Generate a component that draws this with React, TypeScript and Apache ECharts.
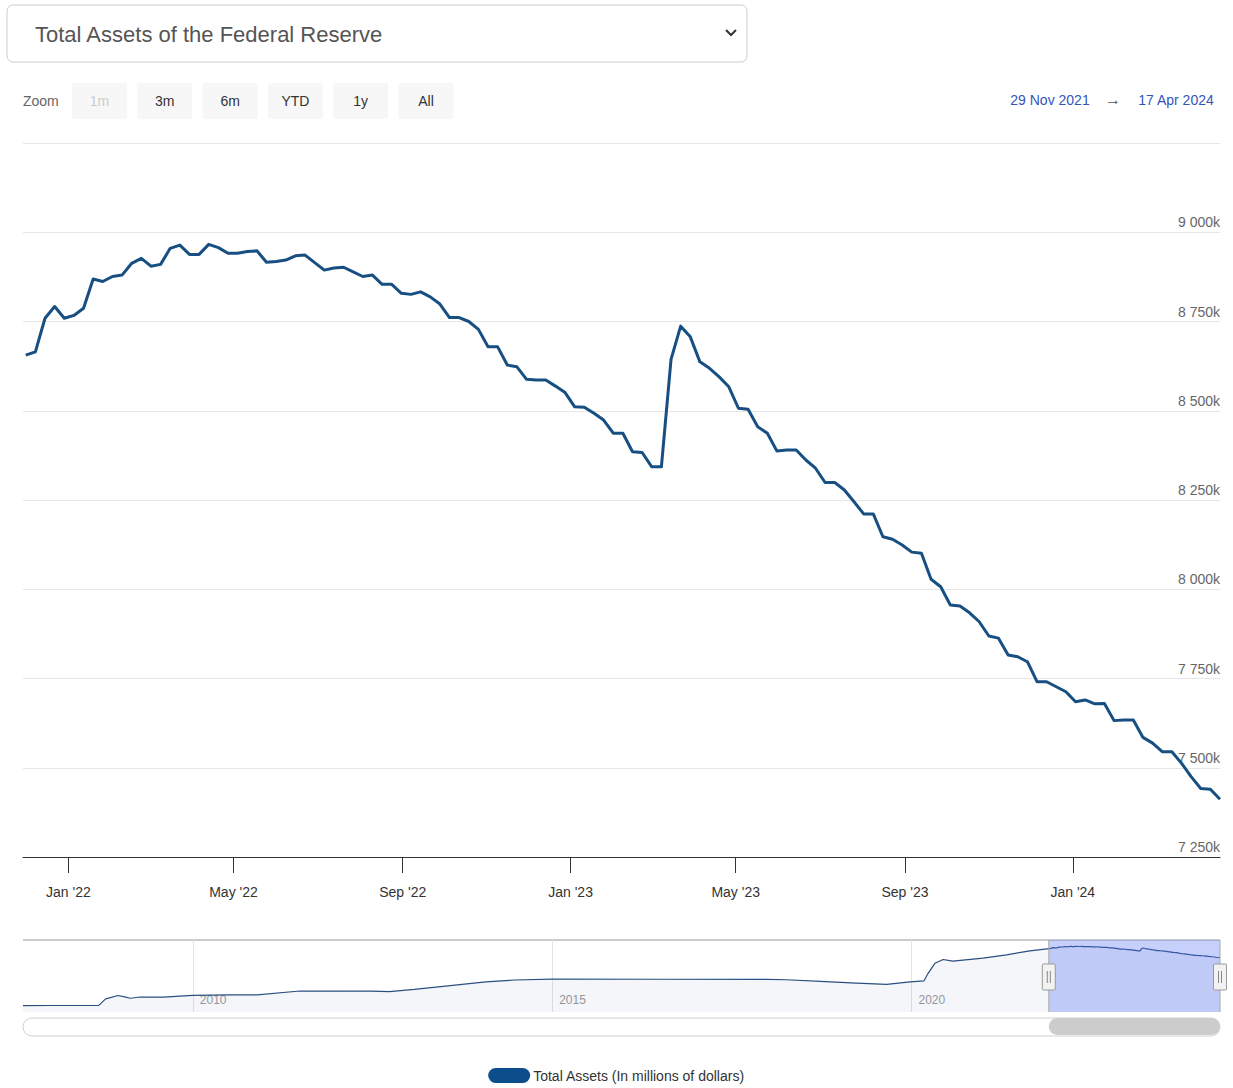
import React, { useEffect, useRef } from 'react';
import * as echarts from 'echarts';

// ---------- data ----------
const SERIES_NAME = 'Total Assets (In millions of dollars)';
const TITLE = 'Total Assets of the Federal Reserve';

// weekly (Wednesday) observations starting 1 Dec 2021, in thousands of millions ("k")
const FIRST_WEEK = '2021-12-01';
const totalAssetsK = [
  8656, 8665, 8759, 8792, 8759, 8767, 8787, 8869, 8862, 8876,
  8880, 8913, 8927, 8905, 8910, 8955, 8964, 8938, 8938, 8966,
  8957, 8941, 8941, 8946, 8948, 8916, 8918, 8922, 8934, 8936,
  8915, 8894, 8900, 8902, 8889, 8876, 8880, 8854, 8854, 8829,
  8826, 8833, 8819, 8799, 8761, 8761, 8750, 8728, 8679, 8679,
  8628, 8623, 8588, 8586, 8586, 8569, 8551, 8511, 8510, 8493,
  8474, 8437, 8437, 8385, 8383, 8343, 8343, 8644, 8737, 8707,
  8637, 8619, 8595, 8567, 8507, 8504, 8455, 8437, 8387, 8390,
  8390, 8362, 8339, 8299, 8299, 8278, 8245, 8211, 8211, 8147,
  8140, 8124, 8104, 8101, 8028, 8007, 7956, 7953, 7934, 7909,
  7869, 7863, 7816, 7811, 7797, 7741, 7741, 7727, 7713, 7685,
  7690, 7679, 7680, 7632, 7634, 7634, 7585, 7569, 7545, 7545,
  7513, 7475, 7442, 7440, 7412,
];

// long history shown in the navigator (before the main series), in millions
const historyDates = [
  '2007-08-22', '2008-01-02', '2008-09-10', '2008-10-15', '2008-12-17',
  '2009-01-14', '2009-02-18', '2009-04-08', '2009-08-05', '2009-12-30',
  '2010-06-30', '2010-11-24', '2011-06-29', '2012-06-27', '2012-09-26',
  '2013-01-30', '2013-06-26', '2014-01-29', '2014-06-25', '2014-12-31',
  '2016-06-29', '2017-12-27', '2018-04-04', '2018-09-26', '2019-03-27',
  '2019-08-28', '2019-12-25', '2020-03-04', '2020-03-25', '2020-04-29',
  '2020-06-10', '2020-07-29', '2020-12-30', '2021-04-28', '2021-08-25',
];
const historyValues = [
  870000, 890000, 905000, 1800000, 2250000,
  2100000, 1880000, 2050000, 2030000, 2270000,
  2330000, 2330000, 2870000, 2850000, 2780000,
  3100000, 3500000, 4100000, 4370000, 4500000,
  4470000, 4450000, 4400000, 4180000, 3950000,
  3770000, 4120000, 4240000, 5250000, 6650000,
  7170000, 6950000, 7350000, 7800000, 8350000,
];

const RANGE_START = '2021-11-29';
const RANGE_END = '2024-04-17';
const NAV_START = '2007-08-22';
const xTickDates = ['2022-01-01', '2022-05-01', '2022-09-01', '2023-01-01', '2023-05-01', '2023-09-01', '2024-01-01'];
const navYearTicks = ['2010-01-01', '2015-01-01', '2020-01-01'];
const Y_MIN = 7250000;
const Y_MAX = 9250000;
const Y_STEP = 250000;
const NAV_Y_MAX = 9830000;
const zoomButtons = ['1m', '3m', '6m', 'YTD', '1y', 'All'];
const disabledButtons = ['1m'];

// ---------- helpers ----------
const MONTHS = ['Jan', 'Feb', 'Mar', 'Apr', 'May', 'Jun', 'Jul', 'Aug', 'Sep', 'Oct', 'Nov', 'Dec'];
const ts = (s: string) => {
  const [y, m, d] = s.split('-').map(Number);
  return new Date(y, m - 1, d).getTime();
};
const fmtRange = (s: string) => {
  const d = new Date(ts(s));
  return `${d.getDate()} ${MONTHS[d.getMonth()]} ${d.getFullYear()}`;
};
const fmtK = (v: number) => {
  const k = Math.round(v / 1000);
  return String(k).replace(/\B(?=(\d{3})+(?!\d))/g, ' ') + 'k';
};

const weekDates = totalAssetsK.map((_, i) => {
  const [y, m, d] = FIRST_WEEK.split('-').map(Number);
  return new Date(y, m - 1, d + 7 * i).getTime();
});
const mainData = totalAssetsK.map((v, i) => [weekDates[i], v * 1000]);
const navData = [
  ...historyDates.map((d, i) => [ts(d), historyValues[i]]),
  ...mainData,
];

const FONT = 'Liberation Sans, Arial, sans-serif';
const LINE_COLOR = '#174f82';

// layout
const PLOT_L = 23;
const PLOT_R = 13;
const PLOT_T = 143;
const PLOT_B = 231; // 1088 - 857
const NAV_T = 940;
const NAV_H = 72;

export default function App() {
  const ref = useRef<HTMLDivElement>(null);

  useEffect(() => {
    document.body.style.margin = '0';
    if (!ref.current) return;
    const chart = echarts.init(ref.current, undefined, { renderer: 'svg' });

    const buttonGraphics: any[] = [];
    zoomButtons.forEach((b, i) => {
      const cx = 99.5 + i * 65.3;
      const disabled = disabledButtons.includes(b);
      buttonGraphics.push({
        type: 'rect',
        shape: { x: cx - 27.5, y: 83, width: 55, height: 36, r: 2 },
        style: { fill: '#f7f7f7' },
      });
      buttonGraphics.push({
        type: 'text',
        x: cx,
        y: 101,
        style: {
          text: b,
          fill: disabled ? '#cccccc' : '#333333',
          font: `14px ${FONT}`,
          textAlign: 'center',
          textVerticalAlign: 'middle',
        },
      });
    });

    const option: any = {
      animation: false,
      textStyle: { fontFamily: FONT },
      grid: [
        { left: PLOT_L, right: PLOT_R, top: PLOT_T, bottom: PLOT_B, containLabel: false },
        { left: PLOT_L, right: PLOT_R, top: NAV_T, height: NAV_H, containLabel: false },
      ],
      xAxis: [
        {
          type: 'value',
          gridIndex: 0,
          min: ts(RANGE_START),
          max: ts(RANGE_END),
          scale: true,
          splitLine: { show: false },
          axisLine: { show: true, lineStyle: { color: '#333333', width: 1 } },
          axisTick: {
            show: true,
            length: 16,
            customValues: xTickDates.map(ts),
            lineStyle: { color: '#333333', width: 1 },
          },
          axisLabel: {
            customValues: xTickDates.map(ts),
            margin: 28,
            color: '#333333',
            fontSize: 14,
            fontFamily: FONT,
            hideOverlap: false,
            showMinLabel: true,
            showMaxLabel: true,
            formatter: (v: number) => {
              const d = new Date(v);
              return `${MONTHS[d.getMonth()]} '${String(d.getFullYear()).slice(2)}`;
            },
          },
        },
        {
          type: 'value',
          gridIndex: 1,
          min: ts(NAV_START),
          max: ts(RANGE_END),
          scale: true,
          splitLine: { show: false },
          axisLine: { show: false },
          axisTick: {
            show: true,
            inside: true,
            length: NAV_H,
            customValues: navYearTicks.map(ts),
            lineStyle: { color: '#e3e3e3', width: 1 },
          },
          axisLabel: {
            customValues: navYearTicks.map(ts),
            inside: true,
            align: 'left',
            margin: 6,
            padding: [0, 0, 0, 7],
            color: '#999999',
            fontSize: 12,
            fontFamily: FONT,
            formatter: (v: number) => String(new Date(v).getFullYear()),
          },
        },
      ],
      yAxis: [
        {
          type: 'value',
          gridIndex: 0,
          position: 'right',
          min: Y_MIN,
          max: Y_MAX,
          interval: Y_STEP,
          axisLine: { show: false },
          axisTick: { show: false },
          splitLine: { show: true, lineStyle: { color: '#e6e6e6', width: 1 } },
          axisLabel: {
            inside: true,
            margin: 0,
            showMaxLabel: false,
            verticalAlign: 'bottom',
            padding: [0, 0, 3, 0],
            color: '#666666',
            fontSize: 14,
            fontFamily: FONT,
            formatter: (v: number) => fmtK(v),
          },
        },
        {
          type: 'value',
          gridIndex: 1,
          min: 0,
          max: NAV_Y_MAX,
          show: false,
          splitLine: { show: false },
        },
      ],
      legend: {
        top: 1063,
        left: 'center',
        itemWidth: 42,
        itemHeight: 15,
        itemGap: 10,
        textStyle: { color: '#333333', fontSize: 14, fontFamily: FONT, padding: [0, 0, 0, -2] },
        data: [
          {
            name: SERIES_NAME,
            icon: 'path://M7.5,0 L34.5,0 A7.5,7.5 0 0 1 34.5,15 L7.5,15 A7.5,7.5 0 0 1 7.5,0 Z',
            itemStyle: { color: '#0c4d8c' },
          },
        ],
      },
      series: [
        {
          name: SERIES_NAME,
          type: 'line',
          xAxisIndex: 0,
          yAxisIndex: 0,
          data: mainData,
          showSymbol: false,
          symbol: 'none',
          lineStyle: { color: LINE_COLOR, width: 3, join: 'round' },
          itemStyle: { color: LINE_COLOR },
          z: 3,
        },
        {
          name: 'navigator',
          type: 'line',
          xAxisIndex: 1,
          yAxisIndex: 1,
          data: navData,
          showSymbol: false,
          symbol: 'none',
          lineStyle: { color: '#2a4f80', width: 1.2 },
          areaStyle: { color: 'rgba(60,100,160,0.08)' },
          z: 2,
        },
        {
          name: 'selection',
          type: 'custom',
          xAxisIndex: 1,
          yAxisIndex: 1,
          clip: false,
          z: 4,
          data: [[ts(RANGE_START), ts(RANGE_END)]],
          renderItem: (params: any, api: any) => {
            const x1 = api.coord([api.value(0), 0])[0];
            const x2 = api.coord([api.value(1), 0])[0];
            const cs = params.coordSys;
            const top = cs.y;
            const bottom = cs.y + cs.height;
            const handle = (x: number) => ({
              type: 'group',
              children: [
                {
                  type: 'rect',
                  shape: { x: x - 6.5, y: top + 24, width: 13, height: 26, r: 1 },
                  style: { fill: '#f2f2f2', stroke: '#999999', lineWidth: 1 },
                },
                {
                  type: 'line',
                  shape: { x1: x - 1.5, y1: top + 31, x2: x - 1.5, y2: top + 43 },
                  style: { stroke: '#888888', lineWidth: 1 },
                },
                {
                  type: 'line',
                  shape: { x1: x + 1.5, y1: top + 31, x2: x + 1.5, y2: top + 43 },
                  style: { stroke: '#888888', lineWidth: 1 },
                },
              ],
            });
            return {
              type: 'group',
              children: [
                {
                  type: 'rect',
                  shape: { x: x1, y: top, width: x2 - x1, height: cs.height },
                  style: { fill: 'rgba(80,110,240,0.32)' },
                },
                {
                  type: 'line',
                  shape: { x1: x1, y1: top, x2: x1, y2: bottom },
                  style: { stroke: '#aaaaaa', lineWidth: 1 },
                },
                {
                  type: 'line',
                  shape: { x1: x2, y1: top, x2: x2, y2: bottom },
                  style: { stroke: '#aaaaaa', lineWidth: 1 },
                },
                handle(x1),
                handle(x2),
                {
                  type: 'rect',
                  shape: { x: x1, y: bottom + 6, width: x2 - x1, height: 17, r: 8.5 },
                  style: { fill: '#cccccc' },
                },
              ],
            };
          },
        },
      ],
      graphic: [
        // dropdown
        {
          type: 'rect',
          shape: { x: 7, y: 5, width: 740, height: 57, r: 6 },
          style: { fill: '#ffffff', stroke: '#cccccc', lineWidth: 1 },
        },
        {
          type: 'text',
          x: 35,
          y: 34,
          style: {
            text: TITLE,
            fill: '#555555',
            font: `22px ${FONT}`,
            textVerticalAlign: 'middle',
          },
        },
        {
          type: 'polyline',
          shape: { points: [[726, 30], [731, 35], [736, 30]] },
          style: { stroke: '#333333', lineWidth: 2, fill: 'none' },
        },
        // range selector
        {
          type: 'text',
          x: 23,
          y: 101,
          style: { text: 'Zoom', fill: '#666666', font: `14px ${FONT}`, textVerticalAlign: 'middle' },
        },
        ...buttonGraphics,
        {
          type: 'text',
          x: 1050,
          y: 100,
          style: {
            text: fmtRange(RANGE_START),
            fill: '#3355bb',
            font: `14px ${FONT}`,
            textAlign: 'center',
            textVerticalAlign: 'middle',
          },
        },
        {
          type: 'text',
          x: 1113,
          y: 99,
          style: { text: '\u2192', fill: '#555555', font: `16px ${FONT}`, textAlign: 'center', textVerticalAlign: 'middle' },
        },
        {
          type: 'text',
          x: 1176,
          y: 100,
          style: {
            text: fmtRange(RANGE_END),
            fill: '#3355bb',
            font: `14px ${FONT}`,
            textAlign: 'center',
            textVerticalAlign: 'middle',
          },
        },
        // navigator outline & scrollbar track
        {
          type: 'line',
          shape: { x1: PLOT_L, y1: NAV_T, x2: 1220, y2: NAV_T },
          style: { stroke: '#cccccc', lineWidth: 2 },
        },
        {
          type: 'rect',
          shape: { x: PLOT_L, y: 1018, width: 1197, height: 18, r: 9 },
          style: { fill: '#ffffff', stroke: '#d0d0d0', lineWidth: 1 },
        },
      ],
    };

    chart.setOption(option);
    return () => chart.dispose();
  }, []);

  return (
    <div
      ref={ref}
      style={{ position: 'absolute', left: 0, top: 0, width: 1233, height: 1088, background: '#ffffff' }}
    />
  );
}
